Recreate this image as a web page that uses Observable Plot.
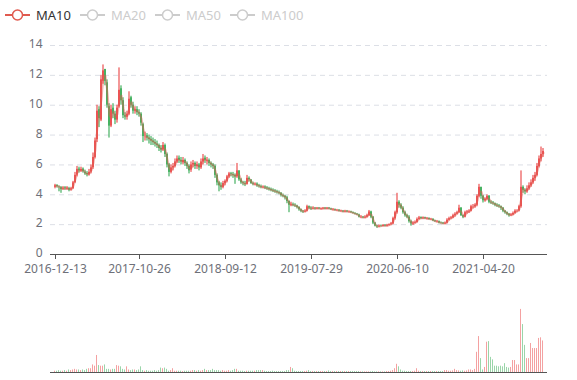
<!DOCTYPE html>
<html>
<head>
<meta charset="utf-8">
<script src="https://cdn.jsdelivr.net/npm/d3@7"></script>
<script src="https://cdn.jsdelivr.net/npm/@observablehq/plot@0.6"></script>
<style>
  html, body { margin: 0; padding: 0; background: #fff; }
  #wrap { position: relative; width: 577px; height: 380px; font-family: "Noto Sans", "Open Sans", sans-serif; }
  .leg { position: absolute; top: 6px; height: 18px; display: flex; align-items: center; font-size: 13px; }
  .leg svg { margin-right: 6px; }
  #main { position: absolute; left: 0; top: 30px; }
  #vol { position: absolute; left: 0; top: 290px; }
</style>
</head>
<body>
<div id="wrap">
  <div id="legend"></div>
  <div id="main"></div>
  <div id="vol"></div>
</div>
<script>
// ---- data (one candle per ~week) ----
const seriesNames = ["MA10", "MA20", "MA50", "MA100"];
const activeSeries = ["MA10"];

const xTickLabels = ["2016-12-13", "2017-10-26", "2018-09-12", "2019-07-29", "2020-06-10", "2021-04-20"];
const xTickIdx = [0, 42, 85, 128, 171, 214];
const yTicks = [0, 2, 4, 6, 8, 10, 12, 14];

const close = [
4.6,4.55,4.5,4.35,4.45,4.4,4.45,4.3,4.4,4.8,
5.3,5.7,5.6,5.7,5.55,5.4,5.35,5.5,5.8,6.5,
7.6,9.6,9.1,11.7,12.3,11.6,10.0,8.6,9.7,9.4,
9.0,9.8,11.0,10.3,9.3,9.2,9.4,10.4,10.0,9.6,
9.7,9.5,9.4,8.8,7.9,7.9,7.8,7.7,7.6,7.5,
7.4,7.3,7.1,7.0,7.3,6.7,6.0,5.5,5.8,5.9,
6.2,6.4,6.3,6.2,6.3,6.1,5.9,5.6,6.0,6.1,
5.9,6.0,5.8,6.2,6.4,6.3,6.3,6.1,6.0,5.9,
5.3,4.8,4.6,4.5,4.75,4.9,5.2,5.4,5.35,5.3,
5.2,5.6,5.0,4.8,4.75,4.7,5.1,5.0,4.75,4.7,
4.7,4.6,4.55,4.5,4.5,4.45,4.4,4.35,4.3,4.25,
4.2,4.15,4.1,3.95,3.9,3.8,3.55,3.3,3.35,3.3,
3.25,3.15,3.0,2.9,2.85,2.9,3.2,3.1,3.05,3.1,
3.05,3.1,3.05,3.05,3.1,3.05,3.1,3.05,3.0,3.0,
2.95,2.95,2.9,2.9,2.85,2.9,2.85,2.85,2.8,2.75,
2.7,2.65,2.5,2.5,2.45,2.5,2.6,2.85,2.5,2.1,
1.9,1.85,1.9,1.9,1.95,1.9,1.95,2.0,2.05,2.4,
2.8,3.5,3.3,3.1,2.8,2.6,2.5,2.2,2.05,2.1,
2.15,2.35,2.45,2.4,2.45,2.4,2.4,2.35,2.35,2.25,
2.2,2.2,2.1,2.1,2.05,2.1,2.3,2.4,2.45,2.6,
2.7,2.8,3.1,2.6,2.5,2.8,2.85,2.9,3.2,3.2,
3.3,3.9,4.5,3.9,3.6,3.7,3.9,3.5,3.45,3.4,
3.3,3.25,3.2,3.1,2.9,2.8,2.7,2.6,2.65,2.75,
2.9,2.9,3.2,4.5,4.3,4.2,4.4,4.6,4.8,5.1,
5.3,5.9,6.4,6.7,6.9
];

const open = [
4.5,4.62,4.52,4.48,4.38,4.46,4.38,4.42,4.32,4.42,
4.82,5.32,5.72,5.58,5.72,5.52,5.42,5.33,5.52,5.82,
6.5,7.7,9.7,9.0,11.6,12.4,11.5,9.9,8.6,9.8,
9.4,9.0,9.9,11.1,10.3,9.3,9.2,9.4,10.5,10.0,
9.6,9.7,9.5,9.4,8.7,7.9,7.95,7.8,7.7,7.6,
7.5,7.4,7.3,7.1,7.0,7.3,6.7,6.0,5.5,5.8,
5.9,6.2,6.45,6.3,6.15,6.3,6.1,5.9,5.65,6.0,
6.1,5.9,6.0,5.8,6.2,6.45,6.25,6.3,6.1,6.0,
5.9,5.3,4.8,4.6,4.5,4.75,4.9,5.2,5.4,5.35,
5.3,5.2,5.6,5.0,4.8,4.75,4.7,5.1,5.0,4.75,
4.68,4.72,4.6,4.55,4.48,4.52,4.45,4.4,4.36,4.3,
4.25,4.2,4.15,4.1,3.95,3.9,3.8,3.55,3.3,3.35,
3.3,3.25,3.15,3.0,2.9,2.85,2.9,3.2,3.1,3.05,
3.1,3.05,3.1,3.02,3.05,3.1,3.05,3.1,3.05,2.98,
3.0,2.95,2.97,2.88,2.9,2.85,2.9,2.83,2.85,2.8,
2.75,2.7,2.65,2.5,2.5,2.45,2.5,2.6,2.85,2.5,
2.1,1.9,1.85,1.92,1.88,1.95,1.9,1.95,2.0,2.05,
2.4,2.8,3.5,3.3,3.1,2.8,2.6,2.5,2.2,2.05,
2.1,2.15,2.35,2.47,2.4,2.46,2.38,2.42,2.33,2.35,
2.25,2.18,2.2,2.12,2.1,2.05,2.1,2.3,2.4,2.45,
2.6,2.7,2.8,3.1,2.6,2.5,2.8,2.85,2.9,3.2,
3.2,3.3,3.9,4.5,3.9,3.6,3.7,3.9,3.5,3.45,
3.4,3.3,3.25,3.2,3.1,2.9,2.8,2.7,2.6,2.65,
2.75,2.9,2.92,3.2,4.5,4.3,4.2,4.4,4.6,4.8,
5.1,5.3,5.9,6.4,6.7
];

const high = [
4.7,4.68,4.6,4.55,4.55,4.55,4.55,4.5,4.5,4.9,
5.5,5.9,5.85,5.85,5.8,5.65,5.55,5.7,6.0,6.8,
7.8,10.0,9.9,12.0,12.7,12.3,11.7,10.1,10.0,10.1,
9.6,10.0,12.5,11.3,10.5,9.5,9.6,10.9,10.6,10.2,
9.9,9.9,9.7,9.5,8.8,8.2,8.1,8.0,7.9,7.8,
7.7,7.6,7.4,7.3,7.5,7.4,6.8,6.1,6.0,6.1,
6.4,6.6,6.6,6.5,6.5,6.4,6.2,6.0,6.2,6.3,
6.2,6.2,6.1,6.4,6.7,6.6,6.5,6.4,6.2,6.1,
6.0,5.4,4.9,4.8,4.9,5.0,5.3,5.5,5.5,5.5,
5.4,6.1,5.6,5.1,4.9,4.9,5.3,5.2,5.0,4.85,
4.8,4.8,4.7,4.65,4.6,4.6,4.55,4.5,4.45,4.4,
4.35,4.3,4.25,4.15,4.05,3.95,3.9,3.6,3.5,3.45,
3.4,3.3,3.2,3.05,2.95,3.0,3.3,3.25,3.2,3.2,
3.15,3.15,3.15,3.12,3.15,3.15,3.15,3.15,3.1,3.08,
3.05,3.02,3.0,2.97,2.95,2.96,2.95,2.92,2.9,2.85,
2.8,2.75,2.7,2.6,2.55,2.6,2.7,2.95,2.9,2.55,
2.15,1.95,1.98,1.98,2.0,2.0,2.02,2.05,2.15,2.5,
2.9,4.1,3.6,3.4,3.2,2.9,2.7,2.6,2.3,2.2,
2.25,2.45,2.55,2.52,2.52,2.5,2.48,2.45,2.42,2.4,
2.3,2.28,2.25,2.18,2.15,2.18,2.4,2.5,2.55,2.7,
2.8,2.9,3.3,3.15,2.65,2.9,2.95,3.0,3.3,3.35,
3.4,4.0,4.7,4.5,3.95,3.8,4.0,3.95,3.6,3.55,
3.45,3.4,3.35,3.25,3.15,2.95,2.85,2.75,2.75,2.85,
3.0,3.0,3.3,5.6,4.6,4.4,4.6,4.8,5.0,5.3,
5.5,6.1,6.6,7.2,7.1
];

const low = [
4.4,4.45,4.2,4.1,4.3,4.3,4.3,4.2,4.25,4.35,
4.75,5.2,5.45,5.5,5.45,5.3,5.2,5.25,5.4,5.7,
6.4,7.5,8.5,8.9,11.4,11.3,9.8,7.8,8.5,9.1,
8.7,8.8,9.8,10.0,9.1,9.0,9.0,9.3,9.8,9.4,
9.4,9.3,9.2,8.6,7.5,7.6,7.6,7.4,7.3,7.3,
7.2,7.1,6.9,6.8,6.9,6.5,5.8,5.2,5.4,5.6,
5.8,6.1,6.1,6.0,6.0,5.9,5.7,5.4,5.5,5.8,
5.7,5.7,5.6,5.7,6.0,6.1,6.0,5.9,5.8,5.7,
5.1,4.6,4.2,4.3,4.4,4.6,4.8,5.1,5.2,5.1,
4.7,5.1,4.9,4.7,4.6,4.55,4.65,4.85,4.7,4.6,
4.6,4.5,4.45,4.4,4.4,4.35,4.3,4.25,4.2,4.15,
4.1,4.05,4.0,3.85,3.8,3.65,3.4,2.8,3.2,3.2,
3.15,3.05,2.9,2.8,2.75,2.8,2.85,3.0,2.95,3.0,
2.98,3.0,3.0,2.98,3.0,3.0,3.0,3.0,2.95,2.92,
2.9,2.88,2.85,2.83,2.8,2.8,2.8,2.78,2.75,2.7,
2.65,2.6,2.45,2.4,2.4,2.4,2.45,2.55,2.4,2.0,
1.85,1.75,1.8,1.83,1.85,1.85,1.85,1.9,1.95,2.0,
2.3,2.7,3.1,3.0,2.7,2.5,2.4,2.1,1.9,1.95,
2.05,2.1,2.3,2.35,2.35,2.35,2.32,2.3,2.28,2.2,
2.15,2.12,2.05,2.03,2.0,2.0,2.05,2.25,2.35,2.4,
2.5,2.65,2.75,2.55,2.4,2.45,2.7,2.75,2.85,3.05,
3.1,3.2,3.8,3.7,3.45,3.5,3.6,3.4,3.35,3.3,
3.2,3.15,3.1,2.95,2.8,2.7,2.6,2.5,2.55,2.6,
2.7,2.8,2.85,3.1,4.1,4.0,4.1,4.3,4.5,4.7,
4.9,5.2,5.8,6.2,6.5
];

const volume = [
2,2,3,2,2,3,2,4,3,4,
5,4,4,3,4,3,5,6,6,12,
10,27,11,10,10,12,5,5,4,5,
5,11,10,9,5,4,9,4,3,4,
4,3,4,9,3,2,3,2,2,2,
3,2,3,7,6,7,5,2,3,6,
2,2,2,2,1.5,2,2,2,2,3,
3,2,3,2,3,5,3,3,3,5,
3,3,3,2,3,2,2,3,2,3,
5,5,2,2,2,1.5,2,2,2,2,
2,3,3,3,3,2,1.5,1.5,1.5,2,
1.5,1.5,1.5,1.5,1.5,1.5,3,3,8,6,
2,1.5,1.5,1.5,1.5,1.5,2,3,1.5,1.5,
1.5,1.5,1.5,1.5,1.5,1.5,1.5,2.5,1.5,1.5,
1.5,1.5,1.5,1.5,1.5,1.5,1.5,1.5,1.5,1.5,
1.5,1.5,1.5,1,1,1,1,1,1,1.5,
1,1,1,1,1,1,1.5,1.5,2,3,
6,13,9,4,2,2,1.5,1.5,1.5,1.5,
2,6,2,1.5,1.5,1.5,1.5,1.5,1.5,1.5,
1.5,1.5,1.5,1.5,1.5,3,3,2,2,2.5,
5,3,2.5,2,2.5,2,2.5,4,4,3,
5,32,57,22,4,8,48,49,24,20,
10,10,9,10,9,14,8,7,8,19,
19,12,12,100,76,43,22,22,46,38,
38,38,54,55,50
];

// ---- styling ----
const UP = "#eb5454";
const DOWN = "#47b262";
const MA_COLOR = "#e05a4f";
const INACTIVE = "#cccccc";
const AXIS = "#555555";
const LABEL = "#6e7079";
const FONT = '"Noto Sans", "Open Sans", sans-serif';

const N = close.length;
const idx = d3.range(N);
const data = idx.map(i => ({i, open: open[i], close: close[i], high: high[i], low: low[i], vol: volume[i]}));
const candleColor = d => (d.close >= d.open ? UP : DOWN);

// ---- legend ----
const legendLeft = [5, 80, 155, 230];
const legend = document.getElementById("legend");
seriesNames.forEach((name, k) => {
  const on = activeSeries.includes(name);
  const c = on ? MA_COLOR : INACTIVE;
  const item = document.createElement("div");
  item.className = "leg";
  item.style.left = legendLeft[k] + "px";
  item.innerHTML =
    `<svg width="25" height="14"><line x1="0" y1="7" x2="25" y2="7" stroke="${c}" stroke-width="2"/>` +
    `<circle cx="12.5" cy="7" r="5" fill="#fff" stroke="${c}" stroke-width="1.5"/></svg>` +
    `<span style="color:${on ? "#333" : INACTIVE}">${name}</span>`;
  legend.appendChild(item);
});

// ---- main candlestick chart ----
const main = Plot.plot({
  width: 577,
  height: 250,
  marginTop: 15,
  marginBottom: 26,
  marginLeft: 50,
  marginRight: 30,
  style: {fontFamily: FONT, fontSize: "12px", color: LABEL, background: "transparent"},
  x: {type: "band", domain: idx, padding: 0.2},
  y: {domain: [0, 14]},
  color: {type: "identity"},
  marks: [
    Plot.gridY(yTicks.filter(d => d > 0), {stroke: "#dcdfe6", strokeOpacity: 1, strokeDasharray: "5,4"}),
    Plot.axisY(yTicks, {tickSize: 0, tickPadding: 8, dy: -1, label: null, fill: LABEL}),
    // wicks: thin bars from low to high
    Plot.barY(data, {x: "i", y1: "low", y2: "high", fill: candleColor, insetLeft: 0.4, insetRight: 0.4}),
    // bodies: open to close
    Plot.barY(data, {x: "i", y1: "open", y2: "close", fill: candleColor}),
    Plot.lineY(data, Plot.windowY({k: 2, anchor: "end"}, {x: "i", y: "close", stroke: MA_COLOR, strokeWidth: 2, strokeOpacity: 0.45})),
    Plot.ruleY([0], {stroke: AXIS}),
    Plot.axisX(xTickIdx, {
      tickFormat: d => xTickLabels[xTickIdx.indexOf(d)],
      tickSize: 5, tickPadding: 5, label: null, stroke: AXIS, fill: LABEL
    })
  ]
});
document.getElementById("main").appendChild(main);

// ---- volume chart ----
const vol = Plot.plot({
  width: 577,
  height: 90,
  marginTop: 0,
  marginBottom: 8,
  marginLeft: 50,
  marginRight: 30,
  style: {fontFamily: FONT, fontSize: "12px", background: "transparent"},
  x: {type: "band", domain: idx, padding: 0.5, axis: null},
  y: {domain: [0, 130], axis: null},
  color: {type: "identity"},
  marks: [
    Plot.barY(data, {x: "i", y: "vol", fill: candleColor, fillOpacity: 0.55}),
    Plot.ruleY([0], {stroke: AXIS})
  ]
});
document.getElementById("vol").appendChild(vol);
</script>
</body>
</html>
